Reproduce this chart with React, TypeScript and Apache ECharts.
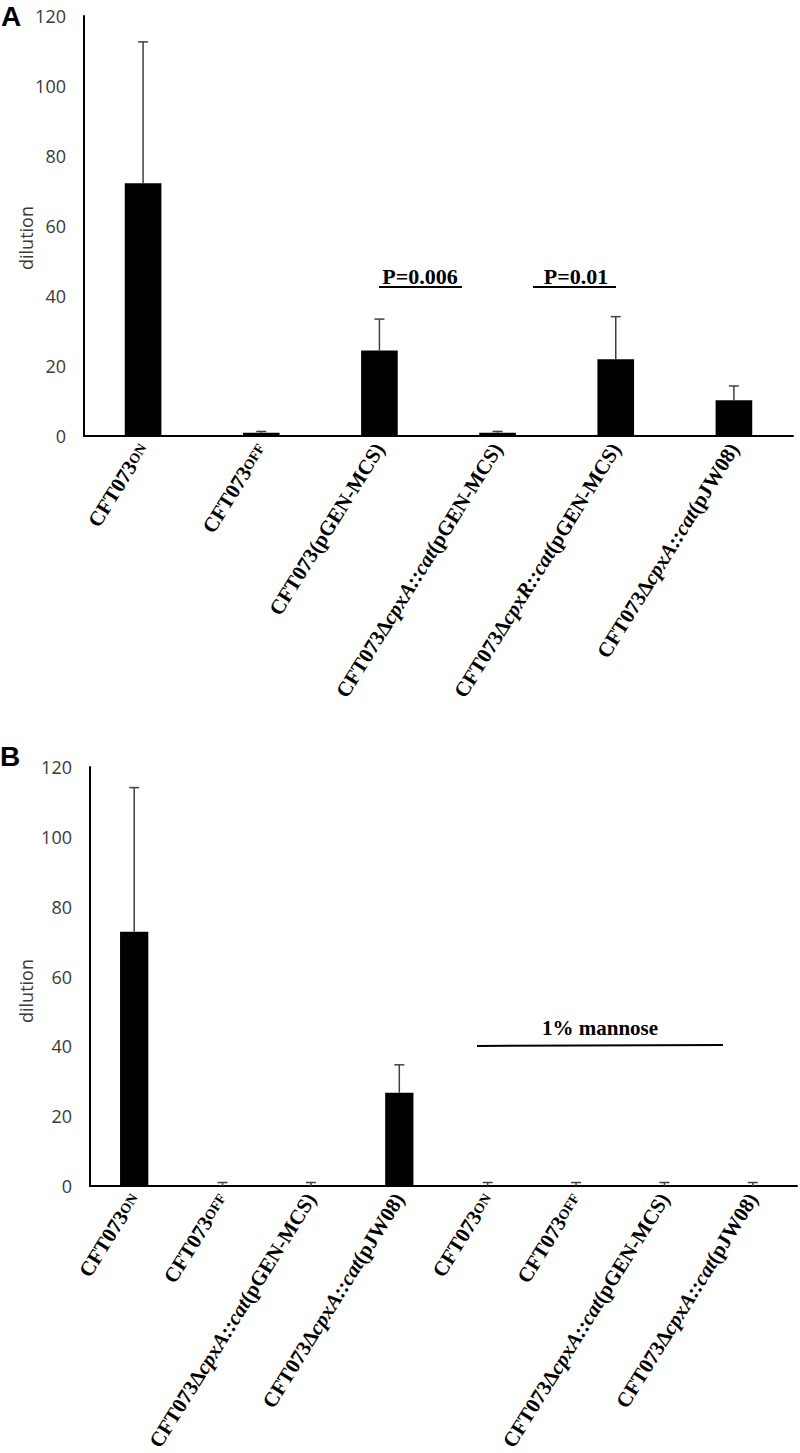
import React, { useEffect, useRef } from "react";
import * as echarts from "echarts";

// ---- Data (panel A) ----
const catsA = [
  "CFT073ON",
  "CFT073OFF",
  "CFT073(pGEN-MCS)",
  "CFT073ΔcpxA::cat(pGEN-MCS)",
  "CFT073ΔcpxR::cat(pGEN-MCS)",
  "CFT073ΔcpxA::cat(pJW08)",
];
const valuesA = [72.2, 0.9, 24.4, 0.9, 21.9, 10.2];
const errorsA = [40.4, 0.4, 9.0, 0.4, 12.2, 4.1];

// ---- Data (panel B) ----
const catsB = [
  "CFT073ON",
  "CFT073OFF",
  "CFT073ΔcpxA::cat(pGEN-MCS)",
  "CFT073ΔcpxA::cat(pJW08)",
  "CFT073ON",
  "CFT073OFF",
  "CFT073ΔcpxA::cat(pGEN-MCS)",
  "CFT073ΔcpxA::cat(pJW08)",
];
const valuesB = [72.8, 0, 0, 26.7, 0, 0, 0, 0];
const errorsB = [41.3, 1.0, 1.0, 8.0, 1.0, 1.0, 1.0, 1.0];

const yTicks = [0, 20, 40, 60, 80, 100, 120];

function richLabel(s: string): string {
  if (s === "CFT073ON") return "{b|CFT073}{s|ON}";
  if (s === "CFT073OFF") return "{b|CFT073}{s|OFF}";
  const m = s.match(/^(CFT073Δ)(cpx[AR]::cat)(\(.*\))$/);
  if (m) return `{b|${m[1]}}{i|${m[2]}}{b|${m[3]}}`;
  return `{b|${s}}`;
}

const serif = "Liberation Serif";
const sans = "Open Sans";

const xLabel = {
  rotate: 58,
  interval: 0,
  margin: 9,
  formatter: (v: string) => richLabel(v),
  rich: {
    b: { fontFamily: serif, fontWeight: "bold", fontSize: 21, color: "#000" },
    i: { fontFamily: serif, fontWeight: "bold", fontStyle: "italic", fontSize: 21, color: "#000" },
    s: { fontFamily: serif, fontWeight: "bold", fontSize: 14, color: "#000" },
  },
};

const yAxisCommon = {
  type: "value",
  min: yTicks[0],
  max: yTicks[yTicks.length - 1],
  interval: 20,
  axisLine: { show: true, lineStyle: { color: "#000", width: 2 } },
  axisTick: { show: false },
  splitLine: { show: false },
  axisLabel: { fontFamily: sans, fontSize: 18, color: "#3a3a3a", margin: 18 },
};

function errorSeries(vals: number[], errs: number[], axisIdx: number) {
  return {
    type: "custom",
    xAxisIndex: axisIdx,
    yAxisIndex: axisIdx,
    z: 3,
    data: vals.map((v, i) => [i, v, v + errs[i]]),
    renderItem: (params: any, api: any) => {
      const x = api.value(0);
      const lo = api.coord([x, api.value(1)]);
      const hi = api.coord([x, api.value(2)]);
      const hw = 5;
      const st = { stroke: "#404040", lineWidth: 1.5 };
      return {
        type: "group",
        children: [
          { type: "line", shape: { x1: lo[0], y1: lo[1], x2: hi[0], y2: hi[1] }, style: st },
          { type: "line", shape: { x1: hi[0] - hw, y1: hi[1], x2: hi[0] + hw, y2: hi[1] }, style: st },
        ],
      };
    },
  };
}

export default function App() {
  const ref = useRef<HTMLDivElement>(null);
  useEffect(() => {
    if (!ref.current) return;
    const chart = echarts.init(ref.current, undefined, { renderer: "svg" });
    const option: any = {
      animation: false,
      backgroundColor: "#fff",
      grid: [
        { left: 84, top: 16, width: 709, height: 420, outerBoundsMode: "none", containLabel: false },
        { left: 90, top: 767, width: 707, height: 419, outerBoundsMode: "none", containLabel: false },
      ],
      xAxis: [
        {
          type: "category",
          gridIndex: 0,
          data: catsA,
          axisLine: { lineStyle: { color: "#000", width: 2 } },
          axisTick: { show: false },
          axisLabel: xLabel,
        },
        {
          type: "category",
          gridIndex: 1,
          data: catsB,
          axisLine: { lineStyle: { color: "#000", width: 2 } },
          axisTick: { show: false },
          axisLabel: xLabel,
        },
      ],
      yAxis: [
        { ...yAxisCommon, gridIndex: 0 },
        { ...yAxisCommon, gridIndex: 1 },
      ],
      series: [
        {
          type: "bar",
          xAxisIndex: 0,
          yAxisIndex: 0,
          data: valuesA,
          barWidth: "31%",
          itemStyle: { color: "#000" },
          z: 2,
        },
        errorSeries(valuesA, errorsA, 0),
        {
          type: "bar",
          xAxisIndex: 1,
          yAxisIndex: 1,
          data: valuesB,
          barWidth: "32%",
          itemStyle: { color: "#000" },
          z: 2,
        },
        errorSeries(valuesB, errorsB, 1),
      ],
      graphic: [
        { type: "text", left: 1, top: 2, style: { text: "A", fontFamily: "Liberation Sans", fontWeight: "bold", fontSize: 28, fill: "#000" } },
        { type: "text", left: 0, top: 742, style: { text: "B", fontFamily: "Liberation Sans", fontWeight: "bold", fontSize: 28, fill: "#000" } },
        { type: "text", x: 26, y: 238, rotation: Math.PI / 2, style: { text: "dilution", fontFamily: sans, fontSize: 18, fill: "#3a3a3a", align: "center", verticalAlign: "middle" } },
        { type: "text", x: 26, y: 991, rotation: Math.PI / 2, style: { text: "dilution", fontFamily: sans, fontSize: 18, fill: "#3a3a3a", align: "center", verticalAlign: "middle" } },
        { type: "text", x: 420, y: 276, style: { text: "P=0.006", fontFamily: serif, fontWeight: "bold", fontSize: 22, fill: "#000", align: "center", verticalAlign: "middle" } },
        { type: "line", shape: { x1: 379, y1: 287, x2: 462, y2: 287 }, style: { stroke: "#000", lineWidth: 2 } },
        { type: "text", x: 576, y: 276, style: { text: "P=0.01", fontFamily: serif, fontWeight: "bold", fontSize: 22, fill: "#000", align: "center", verticalAlign: "middle" } },
        { type: "line", shape: { x1: 533, y1: 287, x2: 616, y2: 287 }, style: { stroke: "#000", lineWidth: 2 } },
        { type: "text", x: 600, y: 1028, style: { text: "1% mannose", fontFamily: serif, fontWeight: "bold", fontSize: 21, fill: "#000", align: "center", verticalAlign: "middle" } },
        { type: "line", shape: { x1: 477, y1: 1046, x2: 723, y2: 1045 }, style: { stroke: "#000", lineWidth: 2 } },
      ],
    };
    chart.setOption(option);
    return () => chart.dispose();
  }, []);
  return (
    <div
      ref={ref}
      style={{ position: "absolute", left: 0, top: 0, width: 800, height: 1453, background: "#fff" }}
    />
  );
}
